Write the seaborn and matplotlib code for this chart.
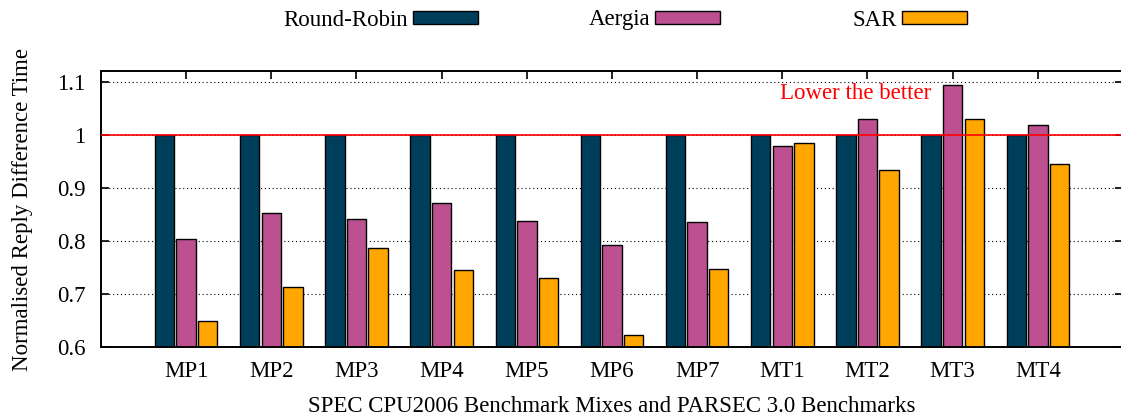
import matplotlib
matplotlib.use("Agg")
import matplotlib.pyplot as plt
import matplotlib.patches as mpatches
import numpy as np
import pandas as pd
import seaborn as sns

# Benchmarks and normalised reply difference time per scheduler
benchmarks = ["MP1", "MP2", "MP3", "MP4", "MP5", "MP6", "MP7",
              "MT1", "MT2", "MT3", "MT4"]
schedulers = ["Round-Robin", "Aergia", "SAR"]
round_robin = [1.0, 1.0, 1.0, 1.0, 1.0, 1.0, 1.0, 1.0, 1.0, 1.0, 1.0]
aergia = [0.804, 0.852, 0.842, 0.872, 0.838, 0.793, 0.835,
          0.980, 1.031, 1.095, 1.019]
sar = [0.650, 0.713, 0.786, 0.746, 0.731, 0.623, 0.748,
       0.985, 0.934, 1.030, 0.945]
yticks = [0.6, 0.7, 0.8, 0.9, 1.0, 1.1]
ytick_labels = ["0.6", "0.7", "0.8", "0.9", "1", "1.1"]
colors = ["#003f5c", "#bc5090", "#ffa600"]

df = pd.DataFrame({
    "benchmark": benchmarks * 3,
    "scheduler": [s for s in schedulers for _ in benchmarks],
    "value": round_robin + aergia + sar,
})

sns.set_style("white")
plt.rcParams["font.family"] = ["Liberation Serif", "DejaVu Serif"]
plt.rcParams["text.color"] = "black"
plt.rcParams["axes.labelcolor"] = "black"
FS = 16.5

W, H = 1121, 419
fig = plt.figure(figsize=(W / 100, H / 100), dpi=100)
ax = fig.add_axes([101 / W, (H - 347) / H, (1123 - 101) / W, (347 - 71.5) / H])

sns.barplot(data=df, x="benchmark", y="value", hue="scheduler",
            hue_order=schedulers, palette=colors, width=0.76, gap=0.1,
            edgecolor="black", linewidth=1.0, saturation=1, legend=False,
            errorbar=None, ax=ax)

ax.set_xlim(-1, 11)
ax.set_ylim(0.6, 1.12)
ax.set_yticks(yticks)
ax.set_yticklabels(ytick_labels)
ax.set_axisbelow(True)
ax.yaxis.grid(True, linestyle=(0, (1, 2.5)), color="black", linewidth=0.8)
ax.xaxis.grid(False)

for side in ["left", "bottom", "top", "right"]:
    ax.spines[side].set_visible(True)
    ax.spines[side].set_color("black")
    ax.spines[side].set_linewidth(1.4)

ax.tick_params(axis="both", direction="in", length=6, width=1.2,
               colors="black", labelcolor="black", labelsize=FS)
ax.tick_params(axis="x", top=True, bottom=True, labeltop=False, pad=10)
ax.tick_params(axis="y", left=True, right=True, labelright=False, pad=11)

ax.axhline(1.0, color="#ff0000", linewidth=1.2, zorder=6)
ax.text(7.865, 1.079, "Lower the better", color="#ff0000", fontsize=FS,
        ha="center", va="center", zorder=7)

ax.set_xlabel("SPEC CPU2006 Benchmark Mixes and PARSEC 3.0 Benchmarks",
              fontsize=FS, labelpad=10, color="black")
ax.set_ylabel("Normalised Reply Difference Time", fontsize=FS, labelpad=17,
              color="black")

# Key entries along the top: label followed by a swatch
fs_px = FS * 100 / 72
box_right = [478, 720, 967]
for name, col, xr in zip(schedulers, colors, box_right):
    handle = mpatches.Patch(facecolor=col, edgecolor="black", linewidth=1.0)
    fig.legend([handle], [name], loc="center right",
               bbox_to_anchor=(xr / W, 1 - 20 / H), frameon=False,
               fontsize=FS, markerfirst=False, borderpad=0, borderaxespad=0,
               handlelength=65 / fs_px, handleheight=12 / fs_px,
               handletextpad=5 / fs_px, labelcolor="black")

fig.savefig("out.png", dpi=100)
